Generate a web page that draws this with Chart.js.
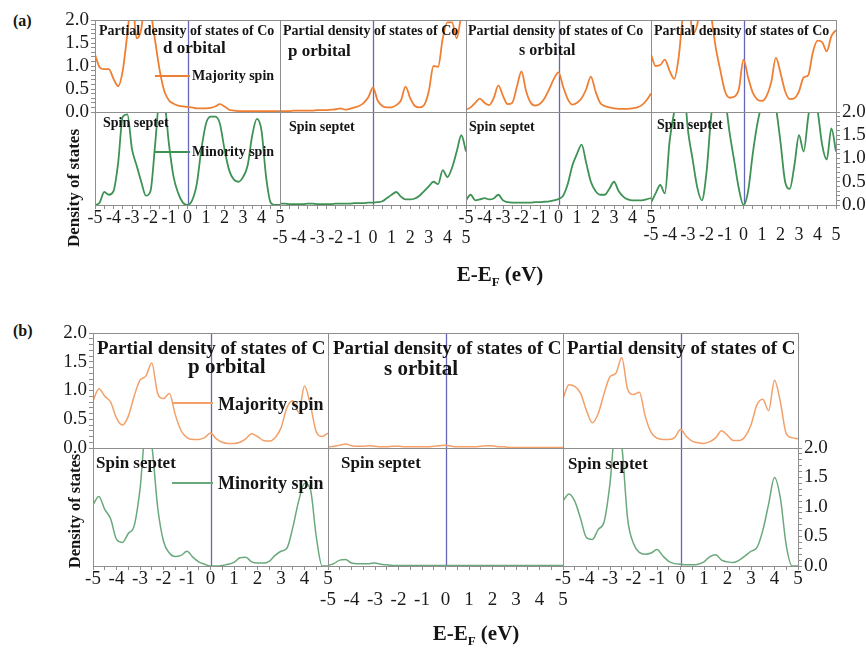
<!DOCTYPE html>
<html>
<head>
<meta charset="utf-8">
<script src="https://cdn.jsdelivr.net/npm/chart.js@4.4.1/dist/chart.umd.min.js"></script>
<style>
  body { margin: 0; background: #fff; }
  #fig { position: relative; width: 866px; height: 652px; overflow: hidden; font-family: "Liberation Serif", "Times New Roman", serif; color: #151515; }
  #fig canvas { position: absolute; }
  .txt { position: absolute; white-space: nowrap; line-height: 1; font-weight: bold; transform: translateY(-50%); }
  .key { position: absolute; height: 2px; }
</style>
</head>
<body>
<div id="fig"></div>
<script>
const energy = [-5, -4.75, -4.5, -4.25, -4, -3.75, -3.5, -3.25, -3, -2.75, -2.5, -2.25, -2, -1.75, -1.5, -1.25, -1, -0.75, -0.5, -0.25,
  0, 0.25, 0.5, 0.75, 1, 1.25, 1.5, 1.75, 2, 2.25, 2.5, 2.75, 3, 3.25, 3.5, 3.75, 4, 4.25, 4.5, 4.75, 5]

// (a) Co, majority (top) / minority (bottom)
const coD_up = [1.25, 0.97, 0.93, 0.93, 0.72, 0.56, 0.9, 1.7, 2.5, 1.6, 1.8, 2.6, 2.2, 1.55, 0.9, 0.45, 0.25, 0.18, 0.14, 0.12,
  0.11, 0.1, 0.08, 0.08, 0.08, 0.09, 0.12, 0.17, 0.12, 0.05, 0.03, 0.02, 0.02, 0.02, 0.02, 0.02, 0.02, 0.02, 0.02, 0.02, 0.02]
const coD_dn = [0, 0.05, 0.28, 0.22, 0.3, 0.9, 1.9, 1.95, 1.2, 0.85, 0.5, 0.2, 0.3, 1.3, 2.3, 2.2, 1.3, 0.6, 0.25, 0.05,
  0, 0.1, 0.45, 1.2, 1.75, 1.9, 1.9, 1.75, 1.2, 0.75, 0.55, 0.5, 0.6, 0.85, 1.5, 1.85, 1.6, 0.6, 0.05, 0, 0]
const coP_up = [0.02, 0.02, 0.02, 0.03, 0.03, 0.03, 0.03, 0.03, 0.04, 0.04, 0.04, 0.05, 0.06, 0.08, 0.05, 0.07, 0.1, 0.13, 0.2, 0.32,
  0.53, 0.25, 0.13, 0.1, 0.1, 0.15, 0.25, 0.55, 0.3, 0.13, 0.1, 0.15, 0.45, 1.0, 0.98, 1.6, 1.95, 1.95, 1.6, 2.1, 2.3]
const coP_dn = [0.03, 0.03, 0.02, 0.02, 0.02, 0.02, 0.03, 0.03, 0.02, 0.02, 0.02, 0.02, 0.03, 0.03, 0.03, 0.03, 0.04, 0.04, 0.04, 0.05,
  0.05, 0.06, 0.08, 0.15, 0.22, 0.28, 0.18, 0.12, 0.12, 0.14, 0.2, 0.3, 0.4, 0.5, 0.45, 0.75, 0.6, 0.8, 1.15, 1.5, 1.15]
const coS_up = [0.05, 0.1, 0.2, 0.29, 0.2, 0.15, 0.3, 0.58, 0.35, 0.17, 0.2, 0.55, 0.88, 0.45, 0.2, 0.14, 0.18, 0.3, 0.5, 0.72,
  0.86, 0.55, 0.28, 0.16, 0.2, 0.3, 0.5, 0.77, 0.45, 0.2, 0.13, 0.1, 0.08, 0.07, 0.07, 0.07, 0.08, 0.1, 0.15, 0.25, 0.4]
const coS_dn = [0.1, 0.22, 0.1, 0.12, 0.15, 0.12, 0.14, 0.22, 0.1, 0.06, 0.05, 0.05, 0.05, 0.05, 0.05, 0.06, 0.06, 0.07, 0.08, 0.1,
  0.13, 0.2, 0.45, 0.85, 1.1, 1.3, 0.9, 0.5, 0.3, 0.22, 0.22, 0.35, 0.5, 0.3, 0.18, 0.12, 0.1, 0.1, 0.1, 0.12, 0.15]
const coT_up = [1.25, 1.0, 1.02, 1.14, 0.9, 0.72, 1.2, 2.2, 2.6, 1.7, 1.9, 2.6, 2.6, 2.1, 1.4, 0.9, 0.45, 0.31, 0.33, 0.5,
  1.14, 0.75, 0.42, 0.27, 0.24, 0.35, 0.65, 1.18, 0.85, 0.45, 0.28, 0.3, 0.45, 0.75, 0.8, 1.3, 1.55, 1.52, 1.32, 1.65, 1.78]
const coT_dn = [0.05, 0.25, 0.43, 0.25, 1.35, 2.0, 2.6, 2.6, 1.6, 0.98, 0.38, 0.1, 0.7, 1.9, 2.6, 2.6, 2.3, 1.55, 0.95, 0.35,
  0, 0.3, 1.1, 1.75, 2.2, 2.6, 2.5, 2.1, 1.35, 0.5, 0.35, 0.85, 1.5, 1.15, 1.9, 2.5, 2.05, 1.3, 0.98, 1.65, 1.15]

// (b) C, majority (top) / minority (bottom)
const cP_up = [0.82, 1.03, 0.9, 0.8, 0.52, 0.4, 0.55, 0.9, 1.18, 1.25, 1.48, 0.95, 0.86, 0.95, 0.58, 0.3, 0.18, 0.15, 0.15, 0.18,
  0.26, 0.16, 0.1, 0.08, 0.08, 0.1, 0.16, 0.25, 0.2, 0.13, 0.12, 0.18, 0.35, 0.7, 0.82, 0.62, 1.08, 0.75, 0.28, 0.2, 0.26]
const cP_dn = [1.04, 1.18, 0.96, 0.8, 0.45, 0.4, 0.55, 0.68, 1.3, 2.3, 2.05, 1.0, 0.42, 0.22, 0.16, 0.18, 0.25, 0.15, 0.07, 0.03,
  0, 0, 0.01, 0.03, 0.06, 0.14, 0.15, 0.07, 0.05, 0.05, 0.08, 0.18, 0.25, 0.3, 0.65, 1.1, 1.4, 1.3, 0.5, 0, 0]
const cS_up = [0.02, 0.03, 0.05, 0.07, 0.04, 0.03, 0.03, 0.04, 0.03, 0.02, 0.02, 0.03, 0.03, 0.02, 0.02, 0.02, 0.02, 0.02, 0.03, 0.04,
  0.05, 0.03, 0.02, 0.02, 0.02, 0.02, 0.03, 0.04, 0.04, 0.02, 0.02, 0.01, 0.01, 0.01, 0.01, 0.01, 0.01, 0.01, 0.01, 0.01, 0.01]
const cS_dn = [0.01, 0.04, 0.1, 0.11, 0.05, 0.04, 0.04, 0.04, 0.05, 0.03, 0.02, 0.01, 0.01, 0.01, 0.01, 0.01, 0.01, 0.01, 0.01, 0.01,
  0.01, 0.01, 0.01, 0.01, 0.01, 0.01, 0.01, 0.01, 0.01, 0.01, 0.01, 0.01, 0.01, 0.01, 0.01, 0.01, 0.01, 0.01, 0.01, 0.01, 0.01]
const cT_up = [0.86, 1.1, 1.07, 0.95, 0.65, 0.44, 0.6, 0.95, 1.24, 1.3, 1.57, 1.02, 0.93, 0.97, 0.55, 0.27, 0.17, 0.15, 0.15, 0.18,
  0.32, 0.2, 0.12, 0.09, 0.08, 0.11, 0.18, 0.3, 0.22, 0.13, 0.13, 0.2, 0.4, 0.75, 0.85, 0.65, 1.18, 0.8, 0.25, 0.18, 0.16]
const cT_dn = [1.1, 1.22, 1.1, 0.8, 0.48, 0.45, 0.62, 0.75, 1.4, 2.4, 2.05, 0.8, 0.38, 0.23, 0.2, 0.22, 0.28, 0.17, 0.08, 0.04,
  0.03, 0.02, 0.02, 0.03, 0.07, 0.16, 0.19, 0.1, 0.07, 0.06, 0.1, 0.17, 0.25, 0.31, 0.6, 1.05, 1.5, 1.15, 0.35, 0, 0]

const xTickLabels = [-5, -4, -3, -2, -1, 0, 1, 2, 3, 4, 5]
const yTickLabels = [0, 0.5, 1, 1.5, 2]

const fig = document.getElementById('fig')
const PAD = { left: 50, right: 50, top: 14, bottom: 50 }
const AXW = 44   // room kept for a y axis
const AXH = 46   // room kept for an x axis
const isMajor = (v, list) => list.some(t => Math.abs(t - v) < 1e-6)

// frame round each cell and the blue Fermi-level line
const guides = {
  id: 'guides',
  beforeDatasetsDraw(chart) {
    const { ctx, chartArea: a } = chart
    const x0 = Math.round(chart.scales.x.getPixelForValue(0)) + 0.5
    ctx.save()
    ctx.strokeStyle = '#6767b8'
    ctx.lineWidth = 1.3
    ctx.beginPath()
    ctx.moveTo(x0, a.top)
    ctx.lineTo(x0, a.bottom)
    ctx.stroke()
    ctx.restore()
  },
  afterDatasetsDraw(chart) {
    const { ctx, chartArea: a } = chart
    ctx.save()
    ctx.strokeStyle = '#8e8e8e'
    ctx.lineWidth = 1
    ctx.strokeRect(a.left + 0.5, a.top + 0.5, a.right - a.left, a.bottom - a.top)
    ctx.restore()
  }
}

const tickFont = size => ({ family: 'Liberation Serif', size, lineHeight: 1 })

function cell({ left, top, width, height, values, color, lw, xAxis, xPad, xSize, yAxis, ySize }) {
  const cv = document.createElement('canvas')
  const w = width + PAD.left + PAD.right
  const h = height + PAD.top + PAD.bottom
  cv.width = w
  cv.height = h
  Object.assign(cv.style, { left: (left - PAD.left) + 'px', top: (top - PAD.top) + 'px', width: w + 'px', height: h + 'px' })
  fig.appendChild(cv)

  const pad = { ...PAD }
  if (yAxis === 'left') pad.left -= AXW
  if (yAxis === 'right') pad.right -= AXW
  if (xAxis) pad.bottom -= AXH

  return new Chart(cv, {
    type: 'line',
    data: {
      datasets: [{
        data: energy.map((e, i) => ({ x: e, y: values[i] })),
        borderColor: color,
        borderWidth: lw,
        pointRadius: 0,
        cubicInterpolationMode: 'monotone',
        fill: false
      }]
    },
    options: {
      responsive: false,
      animation: false,
      devicePixelRatio: 1,
      events: [],
      layout: { padding: pad },
      plugins: { legend: { display: false }, tooltip: { enabled: false } },
      scales: {
        x: {
          type: 'linear', min: -5, max: 5, display: !!xAxis,
          border: { display: false },
          grid: { drawOnChartArea: false, tickLength: 4, color: '#8e8e8e' },
          ticks: {
            stepSize: 0.5, autoSkip: false, maxRotation: 0, minRotation: 0,
            padding: xPad || 0, color: '#1a1a1a', font: tickFont(xSize || 18),
            callback: v => isMajor(v, xTickLabels) ? String(Math.round(v)) : ''
          },
          afterFit: s => { s.height = xAxis ? AXH : 0; s.paddingLeft = 0; s.paddingRight = 0 }
        },
        y: {
          type: 'linear', min: 0, max: 2, display: !!yAxis, position: yAxis || 'left',
          border: { display: false },
          grid: { drawOnChartArea: false, tickLength: 4, color: '#8e8e8e' },
          ticks: {
            stepSize: 0.1, autoSkip: false, padding: 2, color: '#1a1a1a', font: tickFont(ySize || 19),
            callback: v => isMajor(v, yTickLabels) ? v.toFixed(1) : ''
          },
          afterFit: s => { s.width = yAxis ? AXW : 0; s.paddingTop = 0; s.paddingBottom = 0 }
        }
      }
    },
    plugins: [guides]
  })
}

// panel (a)
const aCols = [95, 280, 466, 651, 836]
const aRows = [20, 112, 205]
const aUp = [coD_up, coP_up, coS_up, coT_up]
const aDn = [coD_dn, coP_dn, coS_dn, coT_dn]
const aPad = [0, 20, 0, 17]
aUp.forEach((vals, c) => cell({
  left: aCols[c], top: aRows[0], width: aCols[c + 1] - aCols[c], height: aRows[1] - aRows[0],
  values: vals, color: '#ef7f33', lw: 1.8, yAxis: c === 0 ? 'left' : null
}))
aDn.forEach((vals, c) => cell({
  left: aCols[c], top: aRows[1], width: aCols[c + 1] - aCols[c], height: aRows[2] - aRows[1],
  values: vals, color: '#3d9254', lw: 1.8, xAxis: true, xPad: aPad[c], xSize: 18,
  yAxis: c === 3 ? 'right' : null
}))

// panel (b)
const bCols = [93, 328, 563, 798]
const bRows = [333, 448, 566]
const bUp = [cP_up, cS_up, cT_up]
const bDn = [cP_dn, cS_dn, cT_dn]
const bPad = [0, 21, 0]
bUp.forEach((vals, c) => cell({
  left: bCols[c], top: bRows[0], width: bCols[c + 1] - bCols[c], height: bRows[1] - bRows[0],
  values: vals, color: '#f3a069', lw: 1.5, yAxis: c === 0 ? 'left' : null
}))
bDn.forEach((vals, c) => cell({
  left: bCols[c], top: bRows[1], width: bCols[c + 1] - bCols[c], height: bRows[2] - bRows[1],
  values: vals, color: '#6aa97b', lw: 1.5, xAxis: true, xPad: bPad[c], xSize: 19,
  yAxis: c === 2 ? 'right' : null
}))

// text overlays
function text(str, left, y, size, extra) {
  const d = document.createElement('div')
  d.className = 'txt'
  d.innerHTML = str
  Object.assign(d.style, { left: left + 'px', top: y + 'px', fontSize: size + 'px' }, extra || {})
  fig.appendChild(d)
  return d
}
function key(x1, x2, y, color) {
  const d = document.createElement('div')
  d.className = 'key'
  Object.assign(d.style, { left: x1 + 'px', top: (y - 1) + 'px', width: (x2 - x1) + 'px', background: color })
  fig.appendChild(d)
}

text('(a)', 13, 21, 16)
text('(b)', 13, 331, 16)

;[99, 283, 468, 654].forEach(x => text('Partial density of states of Co', x, 31, 14))
text('d orbital', 163, 47, 17)
text('p orbital', 288, 50, 17)
text('s orbital', 519, 50, 16)
key(155, 190, 76, '#ef7f33')
text('Majority spin', 192, 76, 14)
key(155, 190, 152, '#3d9254')
text('Minority spin', 192, 152, 14)
;[[103, 123], [289, 127], [469, 127], [657, 125]].forEach(([x, y]) => text('Spin septet', x, y, 14))

;[97, 333, 567].forEach(x => text('Partial density of states of C', x, 347, 19))
text('p orbital', 188, 366, 21)
text('s orbital', 384, 368, 21)
key(172, 213, 403, '#f3a069')
text('Majority spin', 218, 404, 18)
key(172, 213, 483, '#6aa97b')
text('Minority spin', 218, 483, 18)
;[[96, 462], [341, 462], [568, 463]].forEach(([x, y]) => text('Spin septet', x, y, 17))

const rot = { transform: 'translate(-50%, -50%) rotate(-90deg)' }
const mid = { transform: 'translate(-50%, -50%)' }
text('Density of states', 73, 188, 17, rot)
text('Density of states', 75, 511, 16.5, rot)
const eef = 'E-E<span style="font-size:0.62em;position:relative;top:0.35em">F</span> (eV)'
text(eef, 500, 274, 21, mid)
text(eef, 476, 633, 21, mid)
</script>
</body>
</html>
